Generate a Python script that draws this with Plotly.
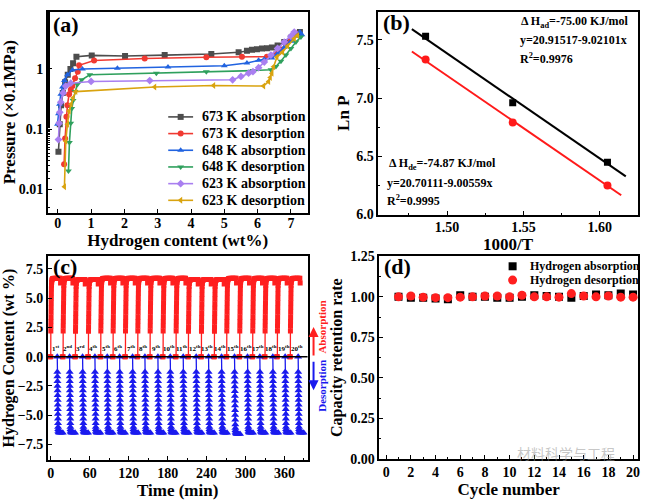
import plotly.graph_objects as go

FONT = "Liberation Serif"

# ---------------- Panel (a): PCT curves ----------------
a673_abs_x = [0.02, 0.06, 0.1, 0.15, 0.22, 0.3, 0.38, 0.46, 0.56, 1.02, 2.02, 3.21, 4.61, 5.43, 5.68, 5.83, 5.98, 6.13, 6.28, 6.43, 6.6, 6.8, 7.0, 7.15, 7.27]
a673_abs_y = [0.042, 0.12, 0.25, 0.4, 0.6, 0.8, 1.0, 1.25, 1.6, 1.68, 1.64, 1.7, 1.77, 1.9, 2.0, 2.08, 2.13, 2.18, 2.22, 2.28, 2.45, 2.8, 3.3, 3.8, 4.1]
a673_des_x = [7.15, 7.0, 6.85, 6.7, 6.55, 6.4, 6.28, 5.53, 4.46, 2.61, 1.09, 0.64, 0.6, 0.52, 0.44, 0.39, 0.34, 0.29, 0.26, 0.22, 0.19]
a673_des_y = [3.9, 3.2, 2.6, 2.1, 1.8, 1.64, 1.6, 1.6, 1.57, 1.49, 1.38, 1.15, 0.9, 0.7, 0.52, 0.45, 0.38, 0.25, 0.16, 0.07, 0.026]
a648_abs_x = [-0.01, 0.02, 0.05, 0.09, 0.14, 0.2, 0.29, 0.44, 0.74, 1.79, 3.31, 5.0, 5.68, 6.03, 6.2, 6.43, 6.6, 6.8, 7.0, 7.15, 7.27, 7.33]
a648_abs_y = [0.12, 0.18, 0.26, 0.38, 0.5, 0.64, 0.8, 0.96, 1.0, 1.03, 1.08, 1.13, 1.26, 1.4, 1.45, 1.52, 1.8, 2.3, 2.9, 3.5, 4.1, 3.7]
a648_des_x = [7.3, 7.15, 7.0, 6.85, 6.7, 6.55, 6.4, 5.86, 4.46, 2.96, 0.96, 0.72, 0.59, 0.52, 0.46, 0.42, 0.39, 0.35, 0.32]
a648_des_y = [3.4, 2.8, 2.2, 1.7, 1.35, 1.1, 0.97, 0.94, 0.9, 0.85, 0.8, 0.66, 0.55, 0.42, 0.3, 0.22, 0.125, 0.06, 0.02]
a623_abs_x = [0.02, 0.04, 0.06, 0.09, 0.16, 0.24, 0.39, 1.0, 2.76, 5.25, 5.5, 5.73, 5.86, 6.03, 6.2, 6.4, 6.6, 6.8, 7.0, 7.1]
a623_abs_y = [0.067, 0.125, 0.19, 0.28, 0.4, 0.52, 0.58, 0.62, 0.64, 0.66, 0.75, 0.85, 0.9, 1.05, 1.3, 1.7, 2.2, 2.8, 3.5, 4.1]
a623_des_x = [7.2, 7.1, 6.9, 6.75, 6.58, 6.48, 6.43, 6.38, 6.33, 6.18, 4.68, 2.91, 0.54, 0.46, 0.4, 0.34, 0.29, 0.24, 0.2]
a623_des_y = [3.6, 3.2, 2.4, 1.9, 1.58, 1.09, 0.85, 0.72, 0.62, 0.52, 0.53, 0.5, 0.42, 0.33, 0.26, 0.2, 0.12, 0.063, 0.011]

pct_names = ["673 K absorption", "673 K desorption", "648 K absorption",
             "648 K desorption", "623 K absorption", "623 K desorption"]
pct_x = [a673_abs_x, a673_des_x, a648_abs_x, a648_des_x, a623_abs_x, a623_des_x]
pct_y = [a673_abs_y, a673_des_y, a648_abs_y, a648_des_y, a623_abs_y, a623_des_y]
pct_colors = ["#4d4d4d", "#f03a32", "#2163e0", "#2fa05d", "#a97ff0", "#d9a30f"]
pct_symbols = ["square", "circle", "triangle-up", "triangle-down", "diamond", "triangle-left"]

# ---------------- Panel (b): van't Hoff ----------------
inv_T = [1.486, 1.543, 1.605]
lnP_abs = [7.53, 6.96, 6.45]
lnP_des = [7.33, 6.79, 6.25]
fit_abs = (20.91517, -9.02101)
fit_des = (20.70111, -9.00559)
fit_abs_range = [1.477, 1.617]
fit_des_range = [1.477, 1.614]

# ---------------- Panel (c): cycling ----------------
abs_start = [0, 19, 38, 58, 77, 96, 115, 134, 153, 173, 193, 212, 232, 252, 271, 291, 311, 330, 349, 369]
des_start = [10, 29, 49, 68, 87, 106, 126, 145, 165, 184, 204, 224, 243, 263, 283, 303, 322, 342, 361, 381]
abs_plateau = [6.7, 6.7, 6.6, 6.6, 6.7, 6.7, 6.7, 6.7, 6.7, 6.7, 6.7, 6.6, 6.6, 6.6, 6.7, 6.7, 6.7, 6.7, 6.7, 6.7]
des_plateau = [-6.5, -6.5, -6.5, -6.5, -6.5, -6.5, -6.5, -6.5, -6.5, -6.5, -6.5, -6.5, -6.5, -6.5, -6.6, -6.5, -6.5, -6.5, -6.5, -6.5]
abs_prof_t = [-1.2, 0, 0.1, 0.2, 0.3, 0.4, 0.5, 0.6, 0.7, 0.8, 0.9, 1.0, 1.15, 1.35, 1.6, 2.0, 2.6, 3.4, 5, 7, 9, 11, 13, 14.6, 15.1]
abs_prof_v = [0, 0, 2.2, 2.6, 3.0, 3.4, 3.8, 4.2, 4.6, 5.0, 5.4, 5.8, 6.1, 6.35, 6.5, 6.6, 6.65, 6.68, 6.7, 6.7, 6.7, 6.7, 6.7, 6.7, 6.3]
des_prof_t = [0, 0.1, 0.2, 0.3, 0.4, 0.5, 0.6, 0.7, 0.8, 0.9, 1.0, 1.1, 1.2, 1.3, 1.45, 1.7, 2.2, 3.0, 4.5, 6.5, 8.5]
des_prof_v = [0, -1.3, -1.7, -2.1, -2.5, -2.9, -3.3, -3.7, -4.1, -4.5, -4.9, -5.3, -5.7, -6.0, -6.2, -6.35, -6.45, -6.5, -6.5, -6.5, -6.5]
cycle_labels = ["1<sup>st</sup>", "2<sup>nd</sup>", "3<sup>rd</sup>"] + [f"{i}<sup>th</sup>" for i in range(4, 21)]

# ---------------- Panel (d): retention ----------------
cycles = list(range(1, 21))
ret_abs = [1.0, 0.995, 0.995, 0.99, 0.985, 1.01, 1.0, 1.0, 0.995, 0.995, 1.0, 1.01, 1.005, 1.0, 0.995, 1.005, 1.015, 1.01, 1.02, 1.015]
ret_des = [1.0, 1.005, 0.998, 0.995, 0.995, 0.998, 1.0, 1.005, 1.005, 1.0, 1.01, 1.0, 1.0, 0.998, 1.02, 1.005, 1.0, 1.005, 0.998, 0.998]
ret_names = ["Hydrogen absorption", "Hydrogen desorption"]

W, H = 645, 500
def px(x): return x / W
def py(y): return 1 - y / H

# legend layout (pixel positions)
LEG_A_ROWS = [113.3, 130.5, 147.7, 164.9, 182.1, 199.3]
LEG_A_LINE = (168, 193)
LEG_A_TEXT_X = 200
LEG_D_ROWS = [267.3, 281.5]
LEG_D_MARK_X = 514
LEG_D_TEXT_X = 529

fig = go.Figure()

for name, xs, ys, c, s in zip(pct_names, pct_x, pct_y, pct_colors, pct_symbols):
    fig.add_trace(go.Scatter(x=xs, y=ys, name=name, mode="lines+markers",
                             line=dict(color=c, width=1.6),
                             marker=dict(symbol=s, size=6, color=c),
                             xaxis="x", yaxis="y", showlegend=False))

# panel b
fig.add_trace(go.Scatter(x=fit_abs_range, y=[fit_abs[0] + fit_abs[1] * v for v in fit_abs_range],
                         mode="lines", line=dict(color="black", width=2), xaxis="x2", yaxis="y2", showlegend=False))
fig.add_trace(go.Scatter(x=fit_des_range, y=[fit_des[0] + fit_des[1] * v for v in fit_des_range],
                         mode="lines", line=dict(color="#ff1a1a", width=2), xaxis="x2", yaxis="y2", showlegend=False))
fig.add_trace(go.Scatter(x=inv_T, y=lnP_abs, mode="markers", marker=dict(symbol="square", size=7, color="black"),
                         xaxis="x2", yaxis="y2", showlegend=False))
fig.add_trace(go.Scatter(x=inv_T, y=lnP_des, mode="markers", marker=dict(symbol="circle", size=8, color="#ff1a1a"),
                         xaxis="x2", yaxis="y2", showlegend=False))

# panel c
rx, ry, bx, by = [], [], [], []
for t0, p in zip(abs_start, abs_plateau):
    for dt, v in zip(abs_prof_t, abs_prof_v):
        rx.append(t0 + dt); ry.append(v * p / 6.7)
    rx.append(None); ry.append(None)
for t0, p in zip(des_start, des_plateau):
    for dt, v in zip(des_prof_t, des_prof_v):
        bx.append(t0 + dt); by.append(v * p / -6.5)
    bx.append(None); by.append(None)
fig.add_trace(go.Scatter(x=rx, y=ry, mode="lines+markers", line=dict(color="#ff1f1f", width=1.3),
                         marker=dict(symbol="square", size=5, color="#ff1f1f"),
                         xaxis="x3", yaxis="y3", showlegend=False, connectgaps=False))
fig.add_trace(go.Scatter(x=bx, y=by, mode="lines+markers", line=dict(color="#1a1aee", width=1.3),
                         marker=dict(symbol="triangle-up", size=7, color="#1a1aee"),
                         xaxis="x3", yaxis="y3", showlegend=False, connectgaps=False))

# panel d
fig.add_trace(go.Scatter(x=cycles, y=ret_abs, mode="markers", name=ret_names[0],
                         marker=dict(symbol="square", size=8, color="black"),
                         xaxis="x4", yaxis="y4", showlegend=False))
fig.add_trace(go.Scatter(x=cycles, y=ret_des, mode="markers", name=ret_names[1],
                         marker=dict(symbol="circle", size=9, color="#ff1f1f"),
                         xaxis="x4", yaxis="y4", showlegend=False))

# legend symbols on a hidden full-page pixel axis
for i, (c, s) in enumerate(zip(pct_colors, pct_symbols)):
    fig.add_trace(go.Scatter(x=list(LEG_A_LINE), y=[LEG_A_ROWS[i]] * 2, mode="lines",
                             line=dict(color=c, width=1.6), xaxis="x5", yaxis="y5",
                             showlegend=False, hoverinfo="skip", cliponaxis=False))
    fig.add_trace(go.Scatter(x=[sum(LEG_A_LINE) / 2], y=[LEG_A_ROWS[i]], mode="markers",
                             marker=dict(symbol=s, size=6, color=c), xaxis="x5", yaxis="y5",
                             showlegend=False, hoverinfo="skip", cliponaxis=False))
for i, (c, s, sz) in enumerate(zip(["black", "#ff1f1f"], ["square", "circle"], [8, 9])):
    fig.add_trace(go.Scatter(x=[LEG_D_MARK_X], y=[LEG_D_ROWS[i]], mode="markers",
                             marker=dict(symbol=s, size=sz, color=c), xaxis="x5", yaxis="y5",
                             showlegend=False, hoverinfo="skip", cliponaxis=False))

tickf = dict(family=FONT, size=14, color="black", weight="bold")
titlef = dict(family=FONT, size=17, color="black", weight="bold")
def ax(**kw):
    d = dict(showline=True, linewidth=1.5, linecolor="black", mirror=True, ticks="inside",
             ticklen=4, tickwidth=1.3, tickcolor="black", showgrid=False, zeroline=False,
             tickfont=tickf)
    d.update(kw)
    return d

fig.update_layout(
    width=W, height=H, margin=dict(l=0, r=0, t=0, b=0),
    plot_bgcolor="rgba(0,0,0,0)", paper_bgcolor="white",
    font=dict(family=FONT, color="black"),
    xaxis=ax(domain=[px(47), px(308)], anchor="y", range=[-0.3, 7.5], dtick=1, ticklabelstandoff=-3,
             title=dict(text="Hydrogen content (wt%)", font=titlef, standoff=0)),
    yaxis=ax(domain=[py(212), py(5)], anchor="x", type="log", range=[-2.39, 0.95],
             tickvals=[0.01, 0.1, 1], ticktext=["0.01", "0.1", "1"],
             minor=dict(ticks="inside", ticklen=2, tickcolor="black", showgrid=False),
             title=dict(text="Pressure (×0.1MPa)", font=titlef, standoff=2)),
    xaxis2=ax(domain=[px(379), px(640)], anchor="y2", range=[1.455, 1.625], tickvals=[1.50, 1.55, 1.60],
              tickformat=".2f", minor=dict(ticks="inside", ticklen=2, dtick=0.025, tickcolor="black"),
              ticklabelstandoff=-1,
              title=dict(text="1000/T", font=titlef, standoff=0)),
    yaxis2=ax(domain=[py(214), py(5)], anchor="x2", range=[6.0, 7.74], tickvals=[6.0, 6.5, 7.0, 7.5],
              tickformat=".1f", minor=dict(ticks="inside", ticklen=2, dtick=0.25, tickcolor="black"),
              title=dict(text="Ln P", font=titlef, standoff=2)),
    xaxis3=ax(domain=[px(47), px(308)], anchor="y3", range=[-4.6, 395.5], tickvals=[0, 60, 120, 180, 240, 300, 360],
              minor=dict(ticks="inside", ticklen=2, dtick=30, tick0=0, tickcolor="black"),
              ticklabelstandoff=-1,
              title=dict(text="Time (min)", font=titlef, standoff=0)),
    yaxis3=ax(domain=[py(467), py(257)], anchor="x3", range=[-8.83, 8.58],
              tickvals=[-7.5, -5.0, -2.5, 0.0, 2.5, 5.0, 7.5], tickformat=".1f",
              title=dict(text="Hydrogen Content (wt %)", font=dict(family=FONT, size=16, color="black", weight="bold"), standoff=2)),
    xaxis4=ax(domain=[px(380), px(640)], anchor="y4", range=[-0.56, 20.4], tickvals=list(range(0, 21, 2)),
              minor=dict(ticks="inside", ticklen=2, dtick=1, tick0=0, tickcolor="black"),
              ticklabelstandoff=-1,
              title=dict(text="Cycle number", font=titlef, standoff=0)),
    yaxis4=ax(domain=[py(466), py(257)], anchor="x4", range=[0, 1.25],
              tickvals=[0, 0.25, 0.5, 0.75, 1.0, 1.25], tickformat=".2f",
              minor=dict(ticks="inside", ticklen=2, dtick=0.125, tickcolor="black"),
              title=dict(text="Capacity retention rate", font=dict(family=FONT, size=16, color="black", weight="bold"), standoff=4)),
    xaxis5=dict(domain=[0, 1], range=[0, W], visible=False, anchor="y5", fixedrange=True),
    yaxis5=dict(domain=[0, 1], range=[H, 0], visible=False, anchor="x5", fixedrange=True),
    showlegend=False,
)

# zero line in (c)
fig.add_shape(type="line", xref="x3 domain", yref="y3", x0=0, x1=1, y0=0, y1=0,
              line=dict(color="black", width=1.5))

ann = []
bf = lambda s, c="black": dict(family=FONT, size=s, color=c, weight="bold")
for lab, xy in [("(a)", (50, 18)), ("(b)", (382, 16)), ("(c)", (50, 268)), ("(d)", (383, 268))]:
    ann.append(dict(text=lab, x=px(xy[0]), y=py(xy[1]), xref="paper", yref="paper",
                    xanchor="left", yanchor="middle", showarrow=False, font=bf(22)))
for name, yv in zip(pct_names, LEG_A_ROWS):
    ann.append(dict(text=name, x=px(LEG_A_TEXT_X), y=py(yv), xref="paper", yref="paper",
                    xanchor="left", yanchor="middle", showarrow=False, font=bf(14)))
for name, yv in zip(ret_names, LEG_D_ROWS):
    ann.append(dict(text=name, x=px(LEG_D_TEXT_X), y=py(yv), xref="paper", yref="paper",
                    xanchor="left", yanchor="middle", showarrow=False, font=bf(12)))
b_texts = [("Δ H<sub>ad</sub>=-75.00 KJ/mol", 520, 15), ("y=20.91517-9.02101x", 519, 34), ("R<sup>2</sup>=0.9976", 519, 53),
           ("Δ H<sub>de</sub>=-74.87 KJ/mol", 388, 162), ("y=20.70111-9.00559x", 386, 181), ("R<sup>2</sup>=0.9995", 386, 199)]
for t, x, y in b_texts:
    ann.append(dict(text=t, x=px(x), y=py(y), xref="paper", yref="paper", xanchor="left", yanchor="middle",
                    showarrow=False, font=bf(12)))
for lab, t0 in zip(cycle_labels, des_start):
    ann.append(dict(text=lab, x=t0 - 2.5, y=0.15, xref="x3", yref="y3", xanchor="center", yanchor="bottom",
                    showarrow=False, font=bf(7)))
ann.append(dict(text="Absorption", x=px(323), y=py(330), xref="paper", yref="paper", textangle=-90,
                xanchor="center", yanchor="middle", showarrow=False, font=bf(11, "#ff1f1f")))
ann.append(dict(text="Desorption", x=px(323), y=py(390), xref="paper", yref="paper", textangle=-90,
                xanchor="center", yanchor="middle", showarrow=False, font=bf(11, "#1a1aee")))
ann.append(dict(text="", x=px(314), y=py(330), xref="paper", yref="paper", ax=0, ay=30,
                showarrow=True, arrowhead=2, arrowsize=1, arrowwidth=2, arrowcolor="#ff1f1f"))
ann.append(dict(text="", x=px(314), y=py(395), xref="paper", yref="paper", ax=0, ay=-30,
                showarrow=True, arrowhead=2, arrowsize=1, arrowwidth=2, arrowcolor="#1a1aee"))
ann.append(dict(text="材料科学与工程", x=px(568), y=py(460), xref="paper", yref="paper",
                xanchor="center", yanchor="middle", showarrow=False,
                font=dict(family="Noto Sans CJK SC", size=14, color="rgba(150,150,150,0.55)")))
fig.update_layout(annotations=ann)

fig.write_html("out.html", config={"displayModeBar": False},
               post_script="document.body.style.margin='0px';document.body.style.overflow='hidden';")
